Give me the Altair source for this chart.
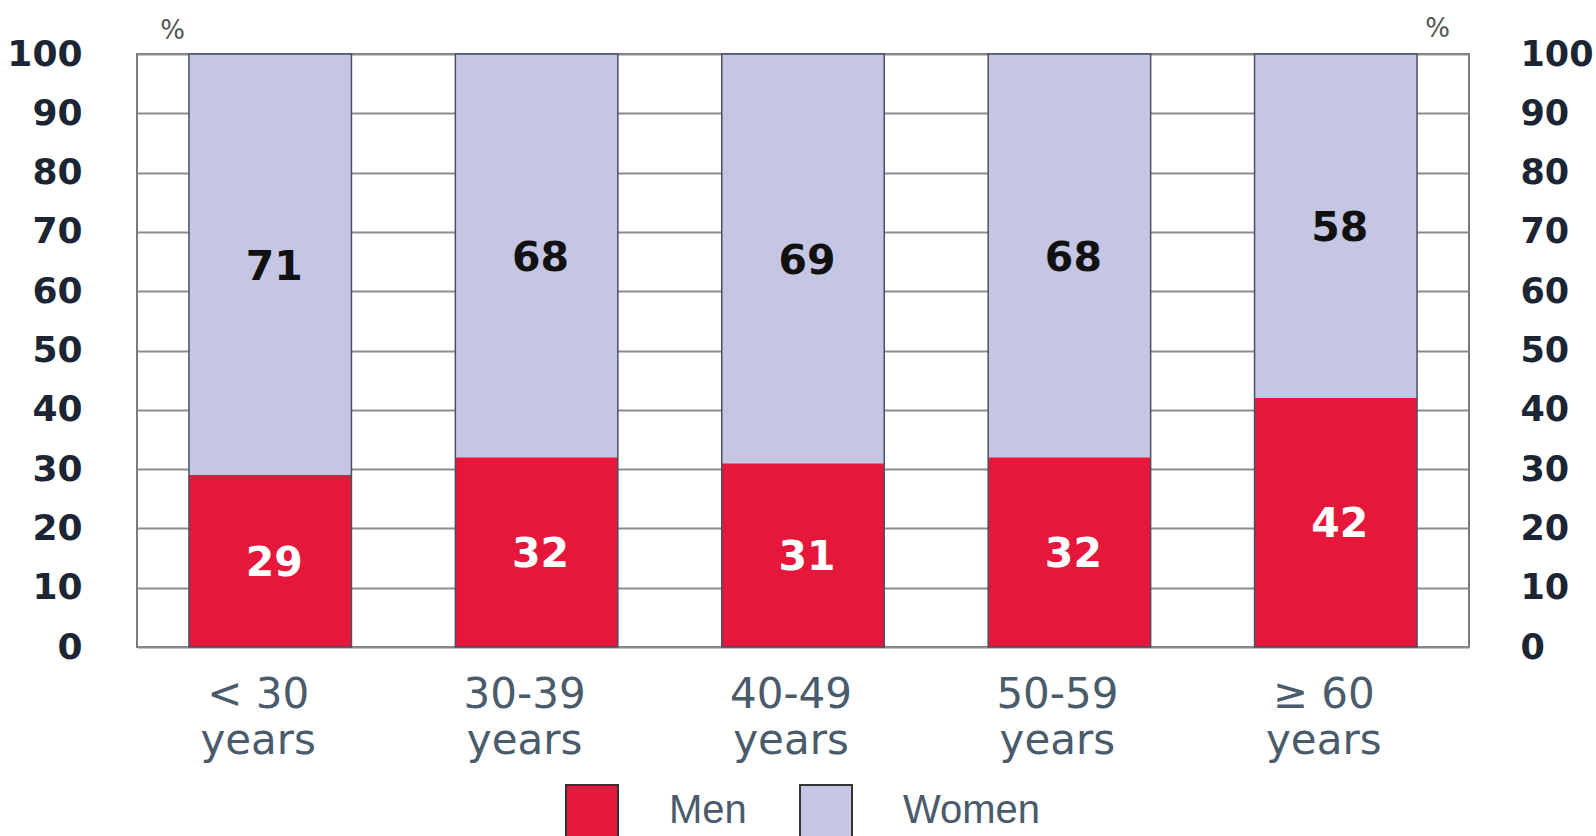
import altair as alt
import pandas as pd

groups = ["< 30", "30-39", "40-49", "50-59", "≥ 60"]
men = [29, 32, 31, 32, 42]
women = [71, 68, 69, 68, 58]
sexes = ["Men", "Women"]
colors = ["#e5173a", "#c4c6e4"]
y_ticks = list(range(0, 101, 10))

rows = []
for g, m, w in zip(groups, men, women):
    rows.append({"group": g, "sex": "Men", "value": m, "order": 0})
    rows.append({"group": g, "sex": "Women", "value": w, "order": 1})
df = pd.DataFrame(rows)

AXIS_FONT = "DejaVu Sans"

xenc = alt.X(
    "group:N",
    sort=groups,
    scale=alt.Scale(paddingInner=0.39, paddingOuter=0.195),
    axis=alt.Axis(
        title=None,
        labelExpr="[datum.label, 'years']",
        labelFont=AXIS_FONT,
        labelFontSize=42,
        labelColor="#4a5b6c",
        labelPadding=27,
        labelLineHeight=46,
        labelOffset=-12,
        ticks=False,
        tickSize=0,
        domain=False,
        labelAngle=0,
        labelBaseline="top",
    ),
)

yscale = alt.Scale(domain=[0, 100], nice=False)

left_axis = alt.Axis(
    orient="left",
    values=y_ticks,
    grid=True,
    gridColor="#8c8c8c",
    gridWidth=2,
    ticks=False,
    tickSize=0,
    domain=False,
    labelFont=AXIS_FONT,
    labelFontWeight="bold",
    labelFontSize=36,
    labelColor="#1c2533",
    labelPadding=55,
    title="%",
    titleAngle=0,
    titleX=35,
    titleY=-24,
    titleFont=AXIS_FONT,
    titleFontSize=26,
    titleFontWeight="normal",
    titleColor="#555555",
    titleAlign="center",
    titleBaseline="middle",
)

right_axis = alt.Axis(
    orient="right",
    values=y_ticks,
    grid=False,
    ticks=False,
    tickSize=0,
    domain=False,
    labelFont=AXIS_FONT,
    labelFontWeight="bold",
    labelFontSize=35,
    labelColor="#1c2533",
    labelPadding=51,
    title="%",
    titleAngle=0,
    titleX=-32,
    titleY=-26,
    titleFont=AXIS_FONT,
    titleFontSize=26,
    titleFontWeight="normal",
    titleColor="#555555",
    titleAlign="center",
    titleBaseline="middle",
)

bars = alt.Chart(df).mark_bar().encode(
    x=xenc,
    y=alt.Y("value:Q", stack="zero", scale=yscale, axis=left_axis),
    color=alt.Color(
        "sex:N",
        scale=alt.Scale(domain=sexes, range=colors),
        legend=alt.Legend(
            title=None,
            orient="none",
            legendX=428,
            legendY=730,
            direction="horizontal",
            symbolType="square",
            symbolSize=2704,
            symbolStrokeColor="#333333",
            symbolStrokeWidth=2,
            symbolOpacity=1,
            labelFont="Liberation Sans, Arial",
            labelFontSize=40,
            labelColor="#4a5b6c",
            labelOffset=50,
            columnPadding=49,
        ),
    ),
    order=alt.Order("order:Q"),
)

outline = alt.Chart(df).mark_bar(
    fillOpacity=0, stroke="#4b4f66", strokeWidth=1.5
).encode(
    x=xenc,
    y=alt.Y("sum(value):Q", scale=yscale, axis=right_axis),
)

labels = (
    alt.Chart(df)
    .transform_stack(
        stack="value",
        groupby=["group"],
        as_=["y0", "y1"],
        sort=[alt.SortField("order", order="ascending")],
    )
    .transform_calculate(mid="(datum.y0 + datum.y1) / 2")
    .mark_text(font=AXIS_FONT, fontWeight="bold", fontSize=41, baseline="middle", dx=4, dy=3)
    .encode(
        x=xenc,
        y=alt.Y("mid:Q", scale=yscale, axis=None),
        text="value:Q",
        color=alt.condition("datum.sex == 'Men'", alt.value("#ffffff"), alt.value("#111111")),
    )
)

chart = (
    alt.layer(bars, outline, labels)
    .resolve_scale(y="shared")
    .resolve_axis(y="independent")
    .properties(
        width=1332,
        height=593,
        padding={"left": 137, "top": 54, "right": 127, "bottom": 189},
        autosize=alt.AutoSizeParams(type="none"),
        background="white",
    )
    .configure_view(stroke="#7a7a7a", strokeWidth=2)
)

chart.save("out.html", embed_options={"renderer": "svg", "actions": False})
